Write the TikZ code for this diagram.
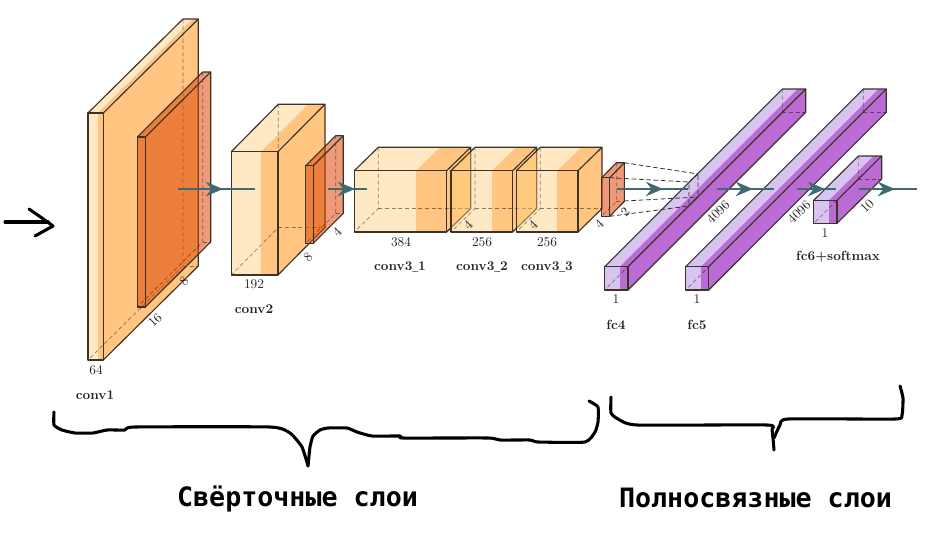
\documentclass[tikz,border=0pt]{standalone}
\usepackage{fontspec}
\usepackage{tikz}
\usetikzlibrary{arrows.meta,decorations.markings}
\newfontfamily\capfont{DejaVu Sans Mono}
\definecolor{edgecol}{RGB}{60,50,40}
\definecolor{confill}{RGB}{255,206,124}
\definecolor{condark}{RGB}{255,197,129}
\definecolor{redfill}{RGB}{223,66,3}
\definecolor{fclight}{RGB}{216,196,240}
\definecolor{fcdark}{RGB}{186,108,212}
\definecolor{flowcol}{RGB}{62,107,112}
\tikzstyle{conlight} = [fill=confill, fill opacity=0.45]
\tikzstyle{condeep} = [fill=condark]
\tikzstyle{redface} = [fill=redfill, fill opacity=0.535]
\tikzstyle{fcfront} = [fill=fclight]
\tikzstyle{fcdeep} = [fill=fcdark]
\tikzstyle{edgeline} = [draw=edgecol, line width=0.85pt, line join=round]
\tikzstyle{backline} = [draw=black, draw opacity=0.45, line width=0.5pt, dash pattern=on 3pt off 2pt]
\tikzstyle{projline} = [draw=black!80, line width=0.6pt, dash pattern=on 3.5pt off 2pt]
\tikzstyle{dimlabel} = [inner sep=0pt, text=black!85]
\tikzstyle{layername} = [inner sep=0pt, font=\bfseries, text=black!85]
\tikzstyle{handline} = [draw=black, line width=2.3pt, line cap=round, line join=round]
\tikzstyle{grouplabel} = [inner sep=0pt, font=\capfont\bfseries\fontsize{20}{24}\selectfont]
\tikzset{flowline/.style={draw=flowcol, line width=1.6pt, postaction=decorate,
    decoration={markings, mark=at position #1 with {\arrow[flowcol]{Stealth[length=13pt,width=11pt,inset=4.5pt]}}}}}
\newcommand{\lowbar}{\scalebox{0.5}[1]{\_}}
% x, y of the front top left corner, w, h, dx, dy, light width, light and deep face
\newcommand{\layerbox}[9]{%
\begin{scope}[shift={(#1,#2)}]
    \path[#8] (0,0) -- (#5,-#6) -- ({#5+#7},-#6) -- (#7,0) -- cycle;
    \path[#9] (#7,0) -- ({#5+#7},-#6) -- ({#5+#3},-#6) -- (#3,0) -- cycle;
    \path[#8] (0,0) rectangle (#7,#4);
    \path[#9] (#7,0) rectangle (#3,#4);
    \path[#9] (#3,0) -- ({#3+#5},-#6) -- ({#3+#5},{#4-#6}) -- (#3,#4) -- cycle;
    \draw[backline] (#5,-#6) -- (#5,{#4-#6}) -- (0,#4);
    \draw[backline] (#5,{#4-#6}) -- ({#3+#5},{#4-#6});
    \draw[edgeline] (0,0) rectangle (#3,#4);
    \draw[edgeline] (0,0) -- (#5,-#6) -- ({#3+#5},-#6) -- ({#3+#5},{#4-#6}) -- (#3,#4);
    \draw[edgeline] (#3,0) -- ({#3+#5},-#6);
\end{scope}}

\begin{document}
\begin{tikzpicture}[x=0.75pt,y=-0.75pt]
\useasboundingbox (0,0) rectangle (934,546);

% convolution part
\layerbox{88}{113}{15.3}{247}{95}{94}{9.7}{conlight}{condeep}
\layerbox{137.3}{137}{8}{170}{65.4}{65}{0}{redface}{redface}
\layerbox{231.3}{151.7}{46.7}{123.3}{47}{47.5}{29.7}{conlight}{condeep}
\layerbox{305.7}{165.7}{7.6}{77.6}{30}{30}{0}{redface}{redface}
\layerbox{354.3}{170.7}{92.4}{61.3}{24}{23.4}{61.7}{conlight}{condeep}
\layerbox{451}{170.7}{61.7}{61.3}{24}{23.4}{41}{conlight}{condeep}
\layerbox{516.3}{170.7}{61.7}{61.3}{24}{23.4}{41}{conlight}{condeep}
\layerbox{601.7}{177.7}{8}{38.6}{14.7}{15}{0}{redface}{redface}

% fully connected part
\layerbox{604.7}{266.7}{23.3}{23.3}{177.7}{177.7}{15.3}{fcfront}{fcdeep}
\layerbox{685.7}{266.7}{23}{23.3}{177.6}{177.7}{15.3}{fcfront}{fcdeep}
\layerbox{813.7}{200.3}{23.3}{23}{44.7}{44.3}{15.3}{fcfront}{fcdeep}

% projection from the last small block
\coordinate (srcA) at (624,162.7);
\coordinate (srcB) at (609.7,177.7);
\coordinate (srcC) at (624,201);
\coordinate (srcD) at (609.7,216.3);
\coordinate (dstA) at (698,174);
\coordinate (dstB) at (689,182);
\coordinate (dstC) at (698,197);
\coordinate (dstD) at (689,206);
\draw[projline] (srcA) -- (dstA);
\draw[projline] (srcB) -- (dstB);
\draw[projline] (srcC) -- (dstC);
\draw[projline] (srcD) -- (dstD);
\draw[projline] (dstA) -- (dstB) -- (dstD) -- (dstC) -- cycle;

% arrows between the layers
\coordinate (flowA) at (178,189);
\coordinate (flowB) at (255,189);
\coordinate (flowC) at (328,189);
\coordinate (flowD) at (367,189);
\coordinate (flowE) at (617,189);
\coordinate (flowF) at (688,189);
\coordinate (flowG) at (717,189);
\coordinate (flowH) at (774,189);
\coordinate (flowI) at (797,189);
\coordinate (flowJ) at (836,189);
\coordinate (flowK) at (859,189);
\coordinate (flowL) at (917,189);
\draw[flowline=0.584] (flowA) -- (flowB);
\draw[flowline=0.69] (flowC) -- (flowD);
\draw[flowline=0.648] (flowE) -- (flowF);
\draw[flowline=0.63] (flowG) -- (flowH);
\draw[flowline=0.72] (flowI) -- (flowJ);
\draw[flowline=0.62] (flowK) -- (flowL);

% sizes
\node[dimlabel] (d64) at (96,370) {64};
\node[dimlabel, rotate=45] (d16) at (155,320) {16};
\node[dimlabel, rotate=45] (d8a) at (184,281) {8};
\node[dimlabel] (d192) at (254,284) {192};
\node[dimlabel, rotate=45] (d8b) at (308,257) {8};
\node[dimlabel, rotate=45] (d4a) at (337,232) {4};
\node[dimlabel] (d384) at (401,242) {384};
\node[dimlabel] (d256a) at (482,242) {256};
\node[dimlabel] (d256b) at (547,242) {256};
\node[dimlabel, rotate=45] (d4b) at (468,225) {4};
\node[dimlabel, rotate=45] (d4c) at (533,225) {4};
\node[dimlabel, rotate=45] (d4d) at (599,224) {4};
\node[dimlabel, rotate=45] (d2) at (625,212) {2};
\node[dimlabel, rotate=45] (d4096a) at (718,212) {4096};
\node[dimlabel, rotate=45] (d4096b) at (799,212) {4096};
\node[dimlabel, rotate=45] (d10) at (867,206) {10};
\node[dimlabel] (d1a) at (616,299) {1};
\node[dimlabel] (d1b) at (697,299) {1};
\node[dimlabel] (d1c) at (825,233) {1};

% layer names
\node[layername] (conv1) at (95,395) {conv1};
\node[layername] (conv2) at (254,309) {conv2};
\node[layername] (conv31) at (400,267) {conv3\lowbar1};
\node[layername] (conv32) at (482,267) {conv3\lowbar2};
\node[layername] (conv33) at (547,267) {conv3\lowbar3};
\node[layername] (fc4) at (616,325) {fc4};
\node[layername] (fc5) at (697,325) {fc5};
\node[layername] (fc6) at (838,257) {fc6+softmax};

% hand drawn input arrow and braces
\draw[handline] (5,222) -- (48,222);
\draw[handline] (29,209) -- (42,218) -- (53,226) -- (35,236);
\draw[handline] plot[smooth, tension=0.3] coordinates {(54,412) (54,425) (62,430) (75,433) (93,433) (107,430) (125,430) (135,427) (270,427) (290,433) (302,447) (308,466)};
\draw[handline] plot[smooth, tension=0.3] coordinates {(308,466) (310,447) (313,436) (320,430) (328,428) (347,428) (357,432) (372,436) (400,436) (403,438) (488,438) (500,440) (530,440) (538,442) (585,442) (595,432) (598,422) (598,407) (589,401)};
\draw[handline] plot[smooth, tension=0.3] coordinates {(611,397) (611,413) (618,419) (637,425) (767,425) (772,430) (774,450)};
\draw[handline] plot[smooth, tension=0.3] coordinates {(774,438) (780,425) (788,419) (895,419) (902,415) (903,398) (900,386)};

\node[grouplabel] (convgroup) at (297.5,499) {Свёрточные слои};
\node[grouplabel] (fcgroup) at (755.5,498) {Полносвязные слои};
\end{tikzpicture}
\end{document}
